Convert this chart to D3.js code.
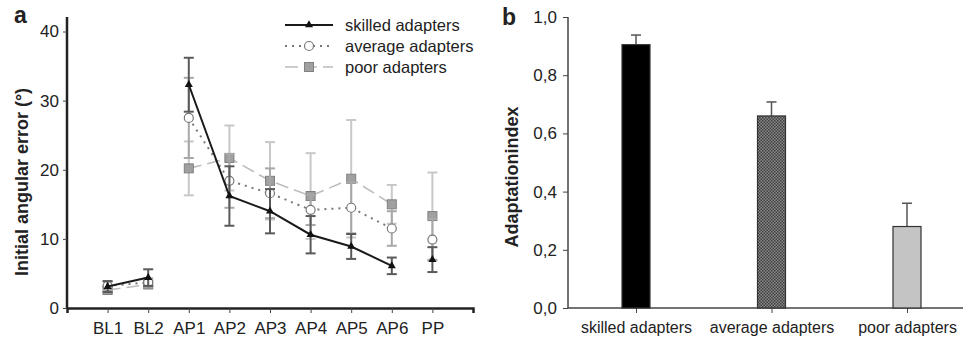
<!DOCTYPE html>
<html>
<head>
<meta charset="utf-8">
<script src="https://cdn.jsdelivr.net/npm/d3@7"></script>
<style>
  body { margin: 0; background: #fff; }
  svg text { font-family: "Liberation Sans", Arial, sans-serif; fill: #222; }
</style>
</head>
<body>
<div id="fig"></div>
<script>
// panel a data
var phases = ['BL1', 'BL2', 'AP1', 'AP2', 'AP3', 'AP4', 'AP5', 'AP6', 'PP'];
var skilled_mean = [3.1, 4.4, 32.3, 16.2, 14.0, 10.6, 8.9, 6.1, 7.0];
var skilled_err  = [0.8, 1.2, 3.9, 4.3, 3.2, 2.7, 1.8, 1.2, 1.8];
var average_mean = [3.2, 3.7, 27.5, 18.4, 16.6, 14.2, 14.5, 11.5, 9.9];
var average_err  = [0.6, 0.6, 5.8, 3.9, 3.6, 2.2, 3.7, 2.5, 3.0];
var poor_mean    = [2.6, 3.4, 20.2, 21.7, 18.4, 16.2, 18.7, 15.0, 13.3];
var poor_err     = [0.5, 0.5, 3.9, 4.7, 5.6, 6.2, 8.5, 2.8, 6.3];
var y_ticks_a = [0, 10, 20, 30, 40];

// panel b data
var groups = ['skilled adapters', 'average adapters', 'poor adapters'];
var index_mean = [0.905, 0.66, 0.28];
var index_err  = [0.033, 0.048, 0.08];
var y_ticks_b = [0, 0.2, 0.4, 0.6, 0.8, 1.0];

var width = 963, height = 341;

var svg = d3.select('#fig')
    .append('svg')
    .attr('width', width)
    .attr('height', height);

var defs = svg.append('defs');
var pat = defs.append('pattern')
    .attr('id', 'dots')
    .attr('width', 3)
    .attr('height', 3)
    .attr('patternUnits', 'userSpaceOnUse');
pat.append('rect').attr('width', 3).attr('height', 3).attr('fill', '#8a8a8a');
pat.append('rect').attr('width', 1.5).attr('height', 1.5).attr('fill', '#3e3e3e');
pat.append('rect').attr('x', 1.5).attr('y', 1.5).attr('width', 1.5).attr('height', 1.5).attr('fill', '#3e3e3e');

// ---------- panel a ----------
var xa = d3.scaleLinear().domain([0, 10]).range([67, 473]);
var ya = d3.scaleLinear().domain([0, 40]).range([308, 31.5]);

var ga = svg.append('g');

ga.append('g')
    .attr('transform', 'translate(0,308)')
    .call(d3.axisBottom(xa).tickValues(d3.range(1, 10)).tickSize(5).tickPadding(9)
        .tickFormat(function(d) { return phases[d - 1]; }))
    .call(function(g) {
        g.select('.domain').attr('stroke', '#222').attr('stroke-width', 2.5);
        g.selectAll('.tick line').attr('stroke', '#444');
        g.selectAll('text').style('font-size', '17px').attr('fill', '#222');
    });

ga.append('g')
    .attr('transform', 'translate(67,0)')
    .call(d3.axisLeft(ya).tickValues(y_ticks_a).tickSize(4).tickPadding(4))
    .call(function(g) {
        g.select('.domain').attr('d', 'M0,' + ya(42.1) + 'V308').attr('stroke', '#222').attr('stroke-width', 2.5);
        g.selectAll('.tick line').attr('stroke', '#444');
        g.selectAll('text').style('font-size', '17px').attr('fill', '#222');
    });

ga.append('text')
    .attr('transform', 'translate(28,182) rotate(-90)')
    .attr('text-anchor', 'middle')
    .style('font-size', '18px')
    .style('font-weight', 700)
    .text('Initial angular error (°)');

ga.append('text')
    .attr('x', 14).attr('y', 23)
    .style('font-size', '23px')
    .style('font-weight', 700)
    .text('a');

var series = [
    { name: 'poor adapters', mean: poor_mean, err: poor_err, line: '#bdbdbd', dash: '13,6', width: 1.6, bar: '#c8c8c8', marker: 'square', fill: '#a0a0a0', mstroke: '#808080' },
    { name: 'average adapters', mean: average_mean, err: average_err, line: '#777', dash: '2,5', width: 2, bar: '#a8a8a8', marker: 'circle', fill: '#fff', mstroke: '#777' },
    { name: 'skilled adapters', mean: skilled_mean, err: skilled_err, line: '#1a1a1a', dash: null, width: 2, bar: '#5a5a5a', marker: 'triangle', fill: '#111', mstroke: '#111' }
];

function draw_marker(g, s, x, y) {
    if (s.marker === 'square') {
        g.append('rect').attr('x', x - 4.5).attr('y', y - 4.5).attr('width', 9).attr('height', 9)
            .attr('fill', s.fill).attr('stroke', s.mstroke).attr('stroke-width', 1);
    } else if (s.marker === 'circle') {
        g.append('circle').attr('cx', x).attr('cy', y).attr('r', 4.5)
            .attr('fill', s.fill).attr('stroke', s.mstroke).attr('stroke-width', 1.2);
    } else {
        g.append('path').attr('d', d3.symbol(d3.symbolTriangle, 28)())
            .attr('transform', 'translate(' + x + ',' + y + ')')
            .attr('fill', s.fill);
    }
}

var line = d3.line()
    .x(function(d) { return xa(d.i + 1); })
    .y(function(d) { return ya(d.v); });

series.forEach(function(s) {
    var g = ga.append('g');
    var pts = s.mean.map(function(v, i) { return { i: i, v: v, e: s.err[i] }; });

    // error bars
    pts.forEach(function(p) {
        var x = xa(p.i + 1);
        g.append('line').attr('x1', x).attr('x2', x)
            .attr('y1', ya(p.v - p.e)).attr('y2', ya(p.v + p.e))
            .attr('stroke', s.bar).attr('stroke-width', 2);
        [p.v - p.e, p.v + p.e].forEach(function(c) {
            g.append('line').attr('x1', x - 5).attr('x2', x + 5)
                .attr('y1', ya(c)).attr('y2', ya(c))
                .attr('stroke', s.bar).attr('stroke-width', 2);
        });
    });

    // connecting lines: BL1-BL2 and AP1..AP6, PP alone
    [pts.slice(0, 2), pts.slice(2, 8)].forEach(function(seg) {
        g.append('path').attr('d', line(seg))
            .attr('fill', 'none')
            .attr('stroke', s.line)
            .attr('stroke-width', s.width)
            .attr('stroke-dasharray', s.dash);
    });

    pts.forEach(function(p) { draw_marker(g, s, xa(p.i + 1), ya(p.v)); });
});

// legend
var legend = ga.append('g');
series.slice().reverse().forEach(function(s, i) {
    var y = 25 + i * 21;
    legend.append('line').attr('x1', 285).attr('x2', 333).attr('y1', y).attr('y2', y)
        .attr('stroke', s.line).attr('stroke-width', s.width).attr('stroke-dasharray', s.dash);
    draw_marker(legend, s, 309, y);
    legend.append('text').attr('x', 345).attr('y', y + 6)
        .style('font-size', '16.5px')
        .text(s.name);
});

// ---------- panel b ----------
var xb = d3.scaleLinear().domain([0, 2]).range([636, 907]);
var yb = d3.scaleLinear().domain([0, 1]).range([308, 17]);
var bar_w = 28;
var bar_fills = ['#000', 'url(#dots)', '#c4c4c4'];

var gb = svg.append('g');

gb.append('g')
    .attr('transform', 'translate(0,308)')
    .call(d3.axisBottom(xb).tickValues([0, 1, 2]).tickSize(5).tickPadding(9)
        .tickFormat(function(d) { return groups[d]; }))
    .call(function(g) {
        g.select('.domain').attr('d', 'M568,0H963').attr('stroke', '#444').attr('stroke-width', 1.5);
        g.selectAll('.tick line').attr('stroke', '#444');
        g.selectAll('text').style('font-size', '16px').attr('fill', '#222');
    });

gb.append('g')
    .attr('transform', 'translate(568,0)')
    .call(d3.axisLeft(yb).tickValues(y_ticks_b).tickSize(5).tickPadding(6)
        .tickFormat(function(d) { return d3.format('.1f')(d).replace('.', ','); }))
    .call(function(g) {
        g.select('.domain').attr('d', 'M0,17V308').attr('stroke', '#444').attr('stroke-width', 1.5);
        g.selectAll('.tick line').attr('stroke', '#444');
        g.selectAll('text').style('font-size', '17px').attr('fill', '#222');
    });

gb.append('text')
    .attr('transform', 'translate(518,177) rotate(-90)')
    .attr('text-anchor', 'middle')
    .style('font-size', '18px')
    .style('font-weight', 700)
    .text('Adaptationindex');

gb.append('text')
    .attr('x', 502).attr('y', 25)
    .style('font-size', '23px')
    .style('font-weight', 700)
    .text('b');

index_mean.forEach(function(v, i) {
    var x = xb(i);
    gb.append('line').attr('x1', x).attr('x2', x)
        .attr('y1', yb(v)).attr('y2', yb(v + index_err[i]))
        .attr('stroke', '#555').attr('stroke-width', 1.5);
    gb.append('line').attr('x1', x - 5).attr('x2', x + 5)
        .attr('y1', yb(v + index_err[i])).attr('y2', yb(v + index_err[i]))
        .attr('stroke', '#555').attr('stroke-width', 1.5);
    gb.append('rect')
        .attr('x', x - bar_w / 2).attr('y', yb(v))
        .attr('width', bar_w).attr('height', yb(0) - yb(v))
        .attr('fill', bar_fills[i])
        .attr('stroke', '#333').attr('stroke-width', 1.2);
});
</script>
</body>
</html>
